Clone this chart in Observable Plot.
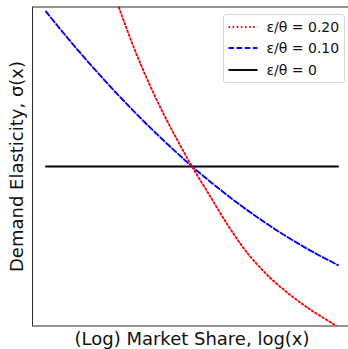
<!DOCTYPE html>
<html>
<head>
<meta charset="utf-8">
<script src="https://cdn.jsdelivr.net/npm/d3@7"></script>
<script src="https://cdn.jsdelivr.net/npm/@observablehq/plot@0.6"></script>
<style>
  html, body { margin: 0; padding: 0; background: #fff; overflow: hidden; }
  #wrap { position: relative; width: 348px; height: 349px; overflow: hidden; font-family: "DejaVu Sans", sans-serif; }
  #wrap > svg { max-width: none !important; display: block; }
  #legend {
    position: absolute; left: 222.5px; top: 14px; width: 122px; height: 69px;
    box-sizing: border-box; border: 1px solid #d6d6d6; border-radius: 3px;
    background: rgba(255,255,255,0.8);
  }
  .row { position: absolute; left: 0; height: 20px; }
  .row svg { position: absolute; left: 4px; top: 0; }
  .row span { position: absolute; left: 43px; font-size: 14px; color: #111; white-space: nowrap; line-height: 20px; top: 0; }
</style>
</head>
<body>
<div id="wrap"><div id="legend"></div></div>
<script>
// log market share positions and elasticity values per series
const xZero = [0, 10];
const sigmaZero = [1, 1];

const xTen = [0, 0.6, 1.2, 1.75, 2.3, 2.9, 3.4, 4.0, 4.5, 5.0, 5.7, 6.3, 6.9, 7.45, 8.0, 8.6, 9.15, 9.9, 10];
const sigmaTen = [1.972, 1.837, 1.707, 1.593, 1.482, 1.367, 1.274, 1.168, 1.083, 1.0, 0.894, 0.807, 0.725, 0.655, 0.588, 0.521, 0.463, 0.391, 0.382];

const xTwenty = [2.45, 3.0, 3.5, 4.0, 4.5, 5.0, 5.6, 6.2, 6.7, 7.1, 7.7, 8.4, 9.1, 9.85, 10];
const sigmaTwenty = [2.021, 1.75, 1.533, 1.34, 1.165, 1.0, 0.82, 0.64, 0.505, 0.413, 0.298, 0.19, 0.097, 0.012, -0.005];

const seriesLabels = ["ε/θ = 0.20", "ε/θ = 0.10", "ε/θ = 0"];
const seriesColors = ["#ff0000", "#0000ff", "#000000"];
const seriesDash = ["1.6,2.5", "5.6,2.5", null];

const xLabel = "(Log) Market Share, log(x)";
const yLabel = "Demand Elasticity, σ(x)";

const toRows = (xs, ys) => xs.map((x, i) => ({x, y: ys[i]}));
const rowsTwenty = toRows(xTwenty, sigmaTwenty);
const rowsTen = toRows(xTen, sigmaTen);
const rowsZero = toRows(xZero, sigmaZero);

const W = 354, H = 349;
const chart = Plot.plot({
  width: W,
  height: H,
  marginLeft: 32,
  marginRight: 3,
  marginTop: 6.5,
  marginBottom: 23.5,
  x: {domain: [-0.46, 10.46], axis: null},
  y: {domain: [0, 2], axis: null},
  style: {fontFamily: "DejaVu Sans, sans-serif", background: "white", overflow: "visible", maxWidth: "none"},
  marks: [
    Plot.line(rowsZero, {x: "x", y: "y", stroke: seriesColors[2], strokeWidth: 1.9, clip: true}),
    Plot.line(rowsTen, {x: "x", y: "y", stroke: seriesColors[1], strokeWidth: 1.9, strokeDasharray: seriesDash[1], curve: "catmull-rom", clip: true}),
    Plot.line(rowsTwenty, {x: "x", y: "y", stroke: seriesColors[0], strokeWidth: 1.9, strokeDasharray: seriesDash[0], curve: "catmull-rom", clip: true}),
    Plot.frame({stroke: "#2b2b2b", strokeWidth: 1}),
    Plot.text([xLabel], {text: d => d, frameAnchor: "bottom", textAnchor: "middle", lineAnchor: "middle", dy: 13, fontSize: 18, fill: "#111"}),
    Plot.text([yLabel], {text: d => d, frameAnchor: "left", textAnchor: "middle", lineAnchor: "middle", dx: -15, rotate: -90, fontSize: 18, fill: "#111"})
  ]
});
chart.style.maxWidth = "none";
document.getElementById("wrap").prepend(chart);

// legend box with line samples
const legend = document.getElementById("legend");
seriesLabels.forEach((label, i) => {
  const row = document.createElement("div");
  row.className = "row";
  row.style.top = (1.5 + i * 21.5) + "px";
  const dash = seriesDash[i] ? `stroke-dasharray="${seriesDash[i]}"` : "";
  row.innerHTML = `<svg width="30" height="20"><line x1="0.5" y1="10" x2="29.5" y2="10" stroke="${seriesColors[i]}" stroke-width="1.9" ${dash}/></svg><span>${label}</span>`;
  legend.appendChild(row);
});
</script>
</body>
</html>
